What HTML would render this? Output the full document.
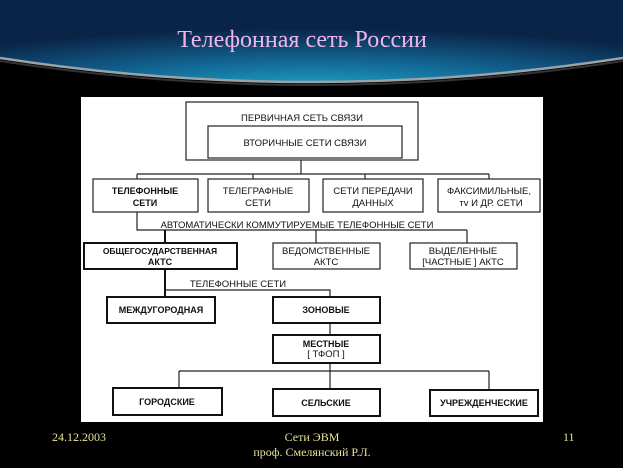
<!DOCTYPE html>
<html><head><meta charset="utf-8"><style>
html,body{margin:0;padding:0;background:#000;}
svg{display:block}
.t{font-family:"Liberation Sans","DejaVu Sans",sans-serif;font-size:9.5px;fill:#111;text-anchor:middle}
.b{font-weight:bold;font-size:9px}
</style></head><body>
<svg width="623" height="468" viewBox="0 0 623 468" xmlns="http://www.w3.org/2000/svg">
<defs>
<radialGradient id="g" cx="0.5" cy="1.1" r="0.75">
<stop offset="0" stop-color="#20a8c0"/>
<stop offset="0.45" stop-color="#136a98"/>
<stop offset="1" stop-color="#0a2447"/>
</radialGradient>
</defs>
<rect width="623" height="468" fill="#000"/>
<path d="M0 0H623V58Q311 106 0 58Z" fill="url(#g)"/>
<path d="M0 58Q311 106 623 58" fill="none" stroke="#9aa3aa" stroke-width="2.5"/>
<path d="M0 61Q311 109 623 61" fill="none" stroke="#333" stroke-width="2"/>
<text x="302" y="47" text-anchor="middle" font-family="Liberation Serif,serif" font-size="24" fill="#f0b4ec">Телефонная сеть России</text>

<rect x="81" y="97" width="462" height="325" fill="#fff"/>
<g fill="none" stroke="#222" stroke-width="1.2">
<rect x="186" y="102" width="232" height="58"/>
<rect x="208" y="126" width="194" height="32"/>
<rect x="93" y="179" width="105" height="33"/>
<rect x="208" y="179" width="101" height="33"/>
<rect x="323" y="179" width="100" height="33"/>
<rect x="438" y="179" width="102" height="33"/>
<rect x="273" y="243" width="107" height="26"/>
<rect x="410" y="243" width="107" height="26"/>
<path d="M301 160V174M137 174H489M137 174V179M253 174V179M365 174V179M489 174V179M137 212V230H467M316 230V243M467 230V243M165 290H330V297M330 323V335M330 363V388M179 371H489M179 371V388M489 371V390"/>
</g>
<g fill="none" stroke="#111" stroke-width="2">
<rect x="84" y="243" width="153" height="26"/>
<rect x="107" y="297" width="108" height="26"/>
<rect x="273" y="297" width="107" height="26"/>
<rect x="273" y="335" width="107" height="28"/>
<rect x="113" y="388" width="109" height="27"/>
<rect x="273" y="389" width="107" height="27"/>
<rect x="430" y="390" width="108" height="26"/>
<path d="M165 230V243M165 269V297"/>
</g>
<text class="t" x="302" y="121">ПЕРВИЧНАЯ СЕТЬ СВЯЗИ</text>
<text class="t" x="305" y="146">ВТОРИЧНЫЕ СЕТИ СВЯЗИ</text>
<text class="t b" x="145" y="194">ТЕЛЕФОННЫЕ</text><text class="t b" x="145" y="206">СЕТИ</text>
<text class="t" x="258" y="194">ТЕЛЕГРАФНЫЕ</text><text class="t" x="258" y="206">СЕТИ</text>
<text class="t" x="373" y="194">СЕТИ ПЕРЕДАЧИ</text><text class="t" x="373" y="206">ДАННЫХ</text>
<text class="t" x="489" y="194">ФАКСИМИЛЬНЫЕ,</text><text class="t" x="491" y="206">тv И ДР. СЕТИ</text>
<text class="t" x="297" y="228">АВТОМАТИЧЕСКИ КОММУТИРУЕМЫЕ ТЕЛЕФОННЫЕ СЕТИ</text>
<text class="t b" x="160" y="254" style="font-size:8.5px">ОБЩЕГОСУДАРСТВЕННАЯ</text><text class="t b" x="160" y="265">АКТС</text>
<text class="t" x="326" y="254">ВЕДОМСТВЕННЫЕ</text><text class="t" x="326" y="265">АКТС</text>
<text class="t" x="463" y="254">ВЫДЕЛЕННЫЕ</text><text class="t" x="463" y="265">[ЧАСТНЫЕ ] АКТС</text>
<text class="t" x="238" y="287">ТЕЛЕФОННЫЕ СЕТИ</text>
<text class="t b" x="161" y="313">МЕЖДУГОРОДНАЯ</text>
<text class="t b" x="326" y="313">ЗОНОВЫЕ</text>
<text class="t b" x="326" y="347">МЕСТНЫЕ</text><text class="t" x="326" y="357">[ ТФОП ]</text>
<text class="t b" x="167" y="405">ГОРОДСКИЕ</text>
<text class="t b" x="326" y="406">СЕЛЬСКИЕ</text>
<text class="t b" x="484" y="406">УЧРЕЖДЕНЧЕСКИЕ</text>

<g font-family="Liberation Serif,serif" font-size="12" fill="#e6e29a">
<text x="52" y="441">24.12.2003</text>
<text x="312" y="441" text-anchor="middle">Сети ЭВМ</text>
<text x="312" y="456" text-anchor="middle">проф. Смелянский Р.Л.</text>
<text x="563" y="441">11</text>
</g>
</svg>
</body></html>
